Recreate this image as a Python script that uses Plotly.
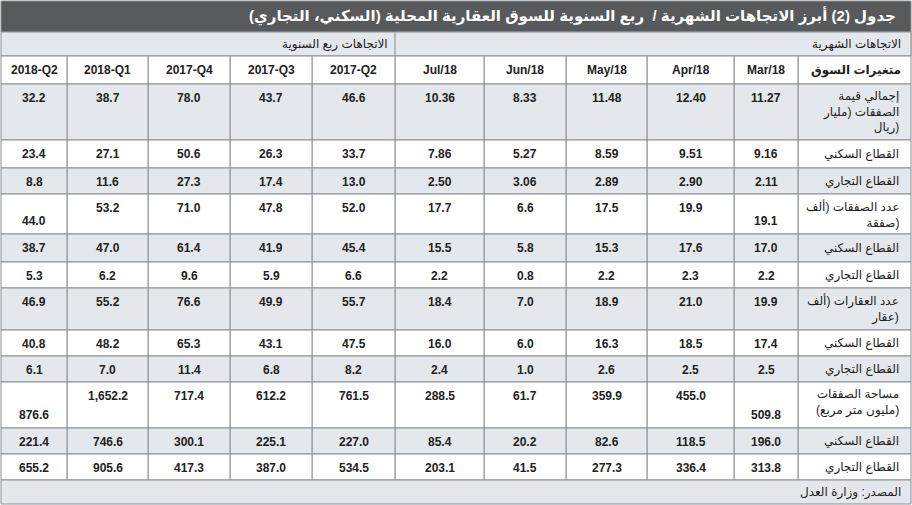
import plotly.graph_objects as go

title = "جدول (2) أبرز الاتجاهات الشهرية /  ربع السنوية للسوق العقارية المحلية (السكني، التجاري)"
group_monthly = "الاتجاهات الشهرية"
group_quarterly = "الاتجاهات ربع السنوية"
label_header = "متغيرات السوق"
source = "المصدر: وزارة العدل"
# columns right-to-left
periods = ["Mar/18", "Apr/18", "May/18", "Jun/18", "Jul/18",
           "2017-Q2", "2017-Q3", "2017-Q4", "2018-Q1", "2018-Q2"]
row_labels = ["إجمالي قيمة<br>الصفقات (مليار<br>ريال)", "القطاع السكني", "القطاع التجاري",
              "عدد الصفقات (ألف<br>صفقة)", "القطاع السكني", "القطاع التجاري",
              "عدد العقارات (ألف<br>عقار)", "القطاع السكني", "القطاع التجاري",
              "مساحة الصفقات<br>(مليون متر مربع)", "القطاع السكني", "القطاع التجاري"]
values = [
    ["11.27", "12.40", "11.48", "8.33", "10.36", "46.6", "43.7", "78.0", "38.7", "32.2"],
    ["9.16", "9.51", "8.59", "5.27", "7.86", "33.7", "26.3", "50.6", "27.1", "23.4"],
    ["2.11", "2.90", "2.89", "3.06", "2.50", "13.0", "17.4", "27.3", "11.6", "8.8"],
    ["19.1", "19.9", "17.5", "6.6", "17.7", "52.0", "47.8", "71.0", "53.2", "44.0"],
    ["17.0", "17.6", "15.3", "5.8", "15.5", "45.4", "41.9", "61.4", "47.0", "38.7"],
    ["2.2", "2.3", "2.2", "0.8", "2.2", "6.6", "5.9", "9.6", "6.2", "5.3"],
    ["19.9", "21.0", "18.9", "7.0", "18.4", "55.7", "49.9", "76.6", "55.2", "46.9"],
    ["17.4", "18.5", "16.3", "6.0", "16.0", "47.5", "43.1", "65.3", "48.2", "40.8"],
    ["2.5", "2.5", "2.6", "1.0", "2.4", "8.2", "6.8", "11.4", "7.0", "6.1"],
    ["509.8", "455.0", "359.9", "61.7", "288.5", "761.5", "612.2", "717.4", "1,652.2", "876.6"],
    ["196.0", "118.5", "82.6", "20.2", "85.4", "227.0", "225.1", "300.1", "746.6", "221.4"],
    ["313.8", "336.4", "277.3", "41.5", "203.1", "534.5", "387.0", "417.3", "905.6", "655.2"],
]
bottom_cells = {(3, 0), (3, 9), (9, 0), (9, 9)}

# layout geometry (pixels)
W, H = 912, 505
col_edges = [911, 798, 734, 647, 566, 484, 395, 312, 230, 148, 67, 1]
row_edges = [84, 140, 168, 194, 234, 262, 288, 330, 356, 382, 428, 454, 480]
GRAY, WHITE, LINE, DARK = "#e4e8ec", "#ffffff", "#8a8f94", "#58595b"
FONT = "Liberation Sans, DejaVu Sans, Noto Sans, sans-serif"

shapes, ann = [], []
def rect(x0, x1, y0, y1, fill):
    shapes.append(dict(type="rect", x0=x0, x1=x1, y0=y0, y1=y1, fillcolor=fill,
                       line=dict(color=LINE, width=1), layer="below"))
def text(x, y, s, size=12, color="#222", xanchor="center", yanchor="middle", bold=False):
    ann.append(dict(x=x, y=y, text=f"<b>{s}</b>" if bold else s, showarrow=False,
                    xanchor=xanchor, yanchor=yanchor, align="right",
                    font=dict(family=FONT, size=size, color=color)))

rect(1, 911, 1, 32, DARK)
text(898, 16, title, size=15, color="white", xanchor="right", bold=True)
rect(1, 911, 32, 56, GRAY)
rect(395, 911, 32, 56, GRAY)
text(903, 44, group_monthly, size=12, xanchor="right")
text(390, 44, group_quarterly, size=12, xanchor="right")
# header row
for c in range(11):
    x0, x1 = col_edges[c + 1], col_edges[c]
    rect(x0, x1, 56, 84, WHITE)
    lab = label_header if c == 0 else periods[c - 1]
    text((x0 + x1) / 2 if c else x1 - 8, 70, lab, size=12, xanchor="center" if c else "right", bold=True)
# body
for r in range(len(row_labels)):
    y0, y1 = row_edges[r], row_edges[r + 1]
    fill = GRAY if r % 2 == 0 else WHITE
    for c in range(11):
        x0, x1 = col_edges[c + 1], col_edges[c]
        rect(x0, x1, y0, y1, fill)
        if c == 0:
            tall = (y1 - y0) >= 30
            text(x1 - 10, y0 + 3 if tall else (y0 + y1) / 2, row_labels[r], size=12,
                 xanchor="right", yanchor="top" if tall else "middle")
        else:
            bottom = (r, c - 1) in bottom_cells
            text((x0 + x1) / 2, y1 - 4 if bottom else y0 + 5, values[r][c - 1], size=12,
                 yanchor="bottom" if bottom else "top", bold=True)
rect(1, 911, 480, 504, GRAY)
text(903, 492, source, size=12, xanchor="right")

fig = go.Figure()
fig.update_layout(width=W, height=H, margin=dict(l=0, r=0, t=0, b=0),
                  paper_bgcolor="white", plot_bgcolor="white",
                  xaxis=dict(range=[0, W], visible=False, fixedrange=True),
                  yaxis=dict(range=[H, 0], visible=False, fixedrange=True),
                  shapes=shapes, annotations=ann, showlegend=False)
fig.write_html("out.html", config={"displayModeBar": False},
               post_script="document.body.style.margin='0';document.body.style.overflow='hidden';")
